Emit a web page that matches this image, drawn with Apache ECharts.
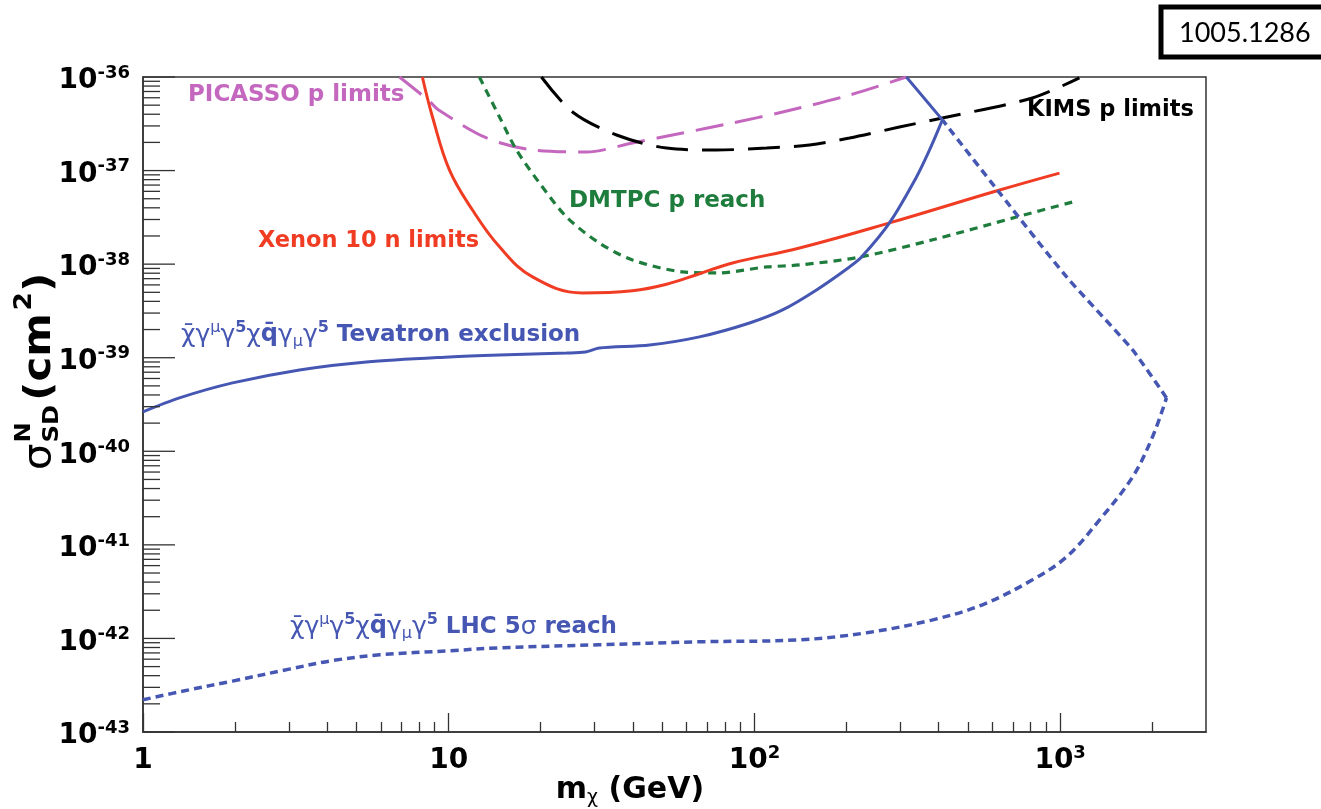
<!DOCTYPE html>
<html><head><meta charset="utf-8">
<script src="https://cdn.jsdelivr.net/npm/echarts@6/dist/echarts.min.js"></script>
<style>html,body{margin:0;padding:0;background:#fff}#c{width:1321px;height:809px}</style>
</head><body><div id="c"></div>
<script>
// ---------------- data ----------------
const xMajorTicks = [1, 10, 100, 1000];
const yMajorTicks = [1e-43, 1e-42, 1e-41, 1e-40, 1e-39, 1e-38, 1e-37, 1e-36];

const picassoMass  = [6.9, 8.6, 9.3, 13.3, 18.8, 28.2, 39.9, 58.2, 84.8, 123.6, 204.6, 314];
const picassoSigma = [1.0e-36, 5.6e-37, 4.4e-37, 2.23e-37, 1.66e-37, 1.58e-37, 1.97e-37, 2.52e-37, 3.23e-37, 4.22e-37, 6.4e-37, 1.0e-36];

const xenonMass  = [8.2, 8.85, 10.06, 11.96, 14.66, 18.8, 27.4, 39.9, 51.6, 66.1, 84.8, 140.5, 276.5, 634, 995];
const xenonSigma = [1.0e-36, 3.74e-37, 1.01e-37, 3.79e-38, 1.53e-38, 7.3e-39, 4.92e-39, 5.2e-39, 6.1e-39, 7.9e-39, 1.03e-38, 1.49e-38, 2.76e-38, 6.2e-38, 9.4e-38];

const dmtpcMass  = [12.6, 14.66, 16.66, 19.8, 24.3, 31.1, 39.9, 58.2, 75.2, 109.6, 140.5, 221, 383, 720, 1099];
const dmtpcSigma = [1.0e-36, 3.74e-37, 1.66e-37, 7.38e-38, 3.19e-38, 1.68e-38, 1.11e-38, 8.26e-39, 8.05e-39, 9.33e-39, 9.8e-39, 1.19e-38, 1.82e-38, 3.19e-38, 4.62e-38];

const kimsMass  = [20.1, 25.4, 35.4, 51.6, 75.2, 109.6, 151.4, 204.6, 298, 412, 811, 1156];
const kimsSigma = [1.0e-36, 4.23e-37, 2.4e-37, 1.74e-37, 1.66e-37, 1.74e-37, 1.88e-37, 2.23e-37, 2.92e-37, 3.65e-37, 5.97e-37, 9.8e-37];

// Tevatron exclusion: rising branch, then the short return segment to the top edge
const tevatronMass  = [1, 1.316, 1.963, 3.25, 5.38, 10.06, 14.66, 24.3, 28, 31.1, 45.4, 66.1, 96.4, 123.6, 159.6, 204.6, 224, 276.5, 339, 374, 412];
const tevatronSigma = [2.64e-40, 3.72e-40, 5.38e-40, 7.41e-40, 9.02e-40, 1.02e-39, 1.07e-39, 1.12e-39, 1.15e-39, 1.27e-39, 1.37e-39, 1.67e-39, 2.35e-39, 3.24e-39, 5.3e-39, 9.33e-39, 1.19e-38, 2.76e-38, 8.55e-38, 1.66e-37, 3.48e-37];
const tevatronBackMass  = [412, 314];
const tevatronBackSigma = [3.48e-37, 1.0e-36];

// LHC 5 sigma reach: lower branch up to the turning point, then the upper branch back
const lhcLowerMass  = [1, 1.42, 1.963, 3.01, 4.17, 5.94, 10.06, 14.66, 31.1, 66.1, 140.5, 233, 383, 557, 812, 1050, 1346, 1726, 2006, 2228];
const lhcLowerSigma = [2.21e-43, 2.83e-43, 3.5e-43, 4.7e-43, 5.8e-43, 6.68e-43, 7.38e-43, 7.94e-43, 8.55e-43, 9.2e-43, 9.66e-43, 1.15e-42, 1.58e-42, 2.29e-42, 4.23e-42, 7.45e-42, 1.85e-41, 5.32e-41, 1.43e-40, 3.72e-40];
const lhcUpperMass  = [2228, 1726, 1050, 634, 412];
const lhcUpperSigma = [3.72e-40, 1.21e-39, 7.3e-39, 5.77e-38, 3.48e-37];

// ---------------- minor tick positions (2..9 per decade) ----------------
const xMinorTicks = [];
for (let e = 0; e <= 3; e++) for (let k = 2; k <= 9; k++) { const v = k * Math.pow(10, e); if (v < 3000) xMinorTicks.push(v); }
const yMinorTicks = [];
for (let e = -43; e <= -37; e++) for (let k = 2; k <= 9; k++) yMinorTicks.push(k * Math.pow(10, e));

const pairs = (a, b) => a.map((m, i) => [m, b[i]]);

const FONT = '"DejaVu Sans", "Liberation Sans", sans-serif';
const C_BLUE = '#4657b3', C_RED = '#f03c23', C_GREEN = '#1e7d3c', C_PURPLE = '#c467be', C_BLACK = '#000';
const AX = '#333';

const chart = echarts.init(document.getElementById('c'), null, {renderer: 'canvas'});

function expOf(v) { return Math.round(Math.log10(v)); }

const axisRich = {
  b: {fontFamily: FONT, fontWeight: 'bold', fontSize: 28, color: '#000', lineHeight: 34},
  s: {fontFamily: FONT, fontWeight: 'bold', fontSize: 18, color: '#000', lineHeight: 14, verticalAlign: 'top'}
};
const axisRichZr = {
  b: {fontFamily: FONT, fontWeight: 'bold', fontSize: 28, fill: '#000', lineHeight: 34},
  s: {fontFamily: FONT, fontWeight: 'bold', fontSize: 18, fill: '#000', lineHeight: 14, verticalAlign: 'top'}
};

const labelRich = (color) => ({
  b: {fill: color, fontFamily: FONT, fontWeight: 'bold', fontSize: 23, lineHeight: 30},
  o: {fill: color, fontFamily: FONT, fontWeight: 'normal', fontSize: 25, lineHeight: 30},
  ob: {fill: color, fontFamily: FONT, fontWeight: 'bold', fontSize: 24, lineHeight: 30},
  g: {fill: color, fontFamily: FONT, fontWeight: 'normal', fontSize: 25, lineHeight: 30},
  sup: {fill: color, fontFamily: FONT, fontWeight: 'normal', fontSize: 16, lineHeight: 20, verticalAlign: 'top'},
  sup5: {fill: color, fontFamily: FONT, fontWeight: 'bold', fontSize: 16, lineHeight: 20, verticalAlign: 'top'},
  sub: {fill: color, fontFamily: FONT, fontWeight: 'normal', fontSize: 16, lineHeight: 12, verticalAlign: 'bottom'}
});
const opPrefix = '{o|\u03C7\u0304}{g|\u03B3}{sup|\u03BC}{g|\u03B3}{sup5|5}{g|\u03C7}{ob|q\u0304}{g|\u03B3}{sub|\u03BC}{g|\u03B3}{sup5|5}';

function textEl(x, y, text, color, size) {
  return {
    type: 'text', x: x, y: y, z: 100,
    style: {text: text, fill: color, fontFamily: FONT, fontWeight: 'bold', fontSize: size || 23, align: 'left', verticalAlign: 'middle'}
  };
}

const lineSeries = (name, data, color, dash, width, smooth) => ({
  type: 'line', name: name, data: data, symbol: 'none', showSymbol: false,
  smooth: smooth, clip: true,
  lineStyle: {color: color, width: width, type: dash},
  emphasis: {disabled: true}, silent: true
});

// y-axis ticks and labels are placed through the y scale (api.coord)
const yTickSeries = (values, len, withLabel) => ({
  type: 'custom', silent: true, clip: false, z: 4,
  data: values.map(v => [1, v]),
  renderItem: (params, api) => {
    const v = values[params.dataIndex];
    const p = api.coord([1, v]);
    const children = [{type: 'line', shape: {x1: p[0], y1: p[1], x2: p[0] + len, y2: p[1]}, style: {stroke: AX, lineWidth: 1.3}}];
    if (withLabel) {
      children.push({type: 'text', x: p[0] - 13, y: p[1] + 4,
        style: {text: '{b|10}{s|' + expOf(v) + '}', rich: axisRichZr, align: 'right', verticalAlign: 'middle'}});
    }
    return {type: 'group', children: children};
  }
});

const option = {
  animation: false,
  backgroundColor: '#fff',
  grid: {left: 143, right: 115, top: 77, bottom: 77, show: true, borderColor: AX, borderWidth: 1.5, backgroundColor: 'transparent'},
  xAxis: [
    {
      type: 'log', logBase: 10, min: 1, max: 3000, position: 'bottom', gridIndex: 0,
      axisLine: {show: true, lineStyle: {color: AX, width: 1.5}},
      axisTick: {show: true, inside: true, length: 19, customValues: xMajorTicks, lineStyle: {color: AX, width: 1.3}},
      axisLabel: {
        show: true, margin: 12, customValues: xMajorTicks,
        formatter: v => { const e = expOf(v); return e === 0 ? '{b|1}' : (e === 1 ? '{b|10}' : '{b|10}{s|' + e + '}'); },
        rich: axisRich
      },
      splitLine: {show: false}
    },
    {
      type: 'log', logBase: 10, min: 1, max: 3000, position: 'bottom', gridIndex: 0,
      axisLine: {show: false},
      axisTick: {show: true, inside: true, length: 10, customValues: xMinorTicks, lineStyle: {color: AX, width: 1.3}},
      axisLabel: {show: false},
      splitLine: {show: false}
    }
  ],
  yAxis: [
    {
      type: 'log', logBase: 10, min: 1e-43, max: 1e-36, position: 'left', gridIndex: 0,
      axisLine: {show: true, lineStyle: {color: AX, width: 1.5}},
      axisTick: {show: false},
      axisLabel: {show: false},
      splitLine: {show: false}
    }
  ],
  series: [
    yTickSeries(yMinorTicks, 17, false),
    yTickSeries(yMajorTicks, 32, true),
    lineSeries('PICASSO p limits', pairs(picassoMass, picassoSigma), C_PURPLE, [28, 12], 3, 0.3),
    lineSeries('KIMS p limits', pairs(kimsMass, kimsSigma), C_BLACK, [32, 14], 3, 0.3),
    lineSeries('DMTPC p reach', pairs(dmtpcMass, dmtpcSigma), C_GREEN, [8, 6], 3.2, 0.3),
    lineSeries('Xenon 10 n limits', pairs(xenonMass, xenonSigma), C_RED, 'solid', 3, 0.4),
    lineSeries('Tevatron exclusion', pairs(tevatronMass, tevatronSigma), C_BLUE, 'solid', 3, 0.3),
    lineSeries('Tevatron exclusion (return)', pairs(tevatronBackMass, tevatronBackSigma), C_BLUE, 'solid', 3, 0),
    lineSeries('LHC 5 sigma reach', pairs(lhcLowerMass, lhcLowerSigma), C_BLUE, [8, 5], 3.5, 0.35),
    lineSeries('LHC 5 sigma reach (upper)', pairs(lhcUpperMass, lhcUpperSigma), C_BLUE, [8, 5], 3.5, 0.2)
  ],
  graphic: [
    // arXiv tag
    {type: 'rect', shape: {x: 1161, y: 7, width: 200, height: 50}, style: {fill: '#fff', stroke: '#000', lineWidth: 5}, z: 100},
    {type: 'text', x: 1179, y: 33, z: 101, style: {text: '1005.1286', fill: '#000', fontFamily: 'Lato, "Open Sans", sans-serif', fontSize: 27, align: 'left', verticalAlign: 'middle'}},
    // curve labels
    textEl(188, 95, 'PICASSO p limits', C_PURPLE),
    textEl(258, 241, 'Xenon 10 n limits', C_RED, 22.5),
    textEl(569, 201, 'DMTPC p reach', C_GREEN),
    textEl(1027, 110, 'KIMS p limits', C_BLACK, 22.5),
    {type: 'text', x: 181, y: 335, z: 100, style: {text: opPrefix + '{b| Tevatron exclusion}', fill: C_BLUE, fontFamily: FONT, fontSize: 23, fontWeight: 'bold', align: 'left', verticalAlign: 'middle', rich: labelRich(C_BLUE)}},
    {type: 'text', x: 290, y: 627, z: 100, style: {text: opPrefix + '{b| LHC 5}{g|\u03C3}{b| reach}', fill: C_BLUE, fontFamily: FONT, fontSize: 23, fontWeight: 'bold', align: 'left', verticalAlign: 'middle', rich: labelRich(C_BLUE)}},
    // x axis title
    {type: 'text', x: 630, y: 790, z: 100, style: {
      text: '{b|m}{s|\u03C7}{b| (GeV)}', align: 'center', verticalAlign: 'middle', fill: '#000',
      rich: {
        b: {fill: '#000', fontFamily: FONT, fontWeight: 'bold', fontSize: 30, lineHeight: 36},
        s: {fill: '#000', fontFamily: FONT, fontWeight: 'normal', fontSize: 19, lineHeight: 14, verticalAlign: 'bottom'}
      }}},
    // y axis title (rotated, reads bottom to top)
    {type: 'group', x: 40, y: 470, rotation: Math.PI / 2, scaleX: 1.1, z: 100, children: [
      {type: 'text', x: 0, y: 0, style: {text: '\u03C3', fill: '#000', fontFamily: FONT, fontWeight: 'normal', fontSize: 38, align: 'left', verticalAlign: 'middle'}},
      {type: 'text', x: 25, y: -16, style: {text: 'N', fill: '#000', fontFamily: FONT, fontWeight: 'bold', fontSize: 22, align: 'left', verticalAlign: 'middle'}},
      {type: 'text', x: 25, y: 12, style: {text: 'SD', fill: '#000', fontFamily: FONT, fontWeight: 'bold', fontSize: 22, align: 'left', verticalAlign: 'middle'}},
      {type: 'text', x: 63, y: 0, style: {text: '(cm', fill: '#000', fontFamily: FONT, fontWeight: 'bold', fontSize: 38, align: 'left', verticalAlign: 'middle'}},
      {type: 'text', x: 145, y: -15, style: {text: '2', fill: '#000', fontFamily: FONT, fontWeight: 'bold', fontSize: 24, align: 'left', verticalAlign: 'middle'}},
      {type: 'text', x: 162, y: 0, style: {text: ')', fill: '#000', fontFamily: FONT, fontWeight: 'bold', fontSize: 38, align: 'left', verticalAlign: 'middle'}}
    ]}
  ]
};
chart.setOption(option);
</script>
</body></html>
